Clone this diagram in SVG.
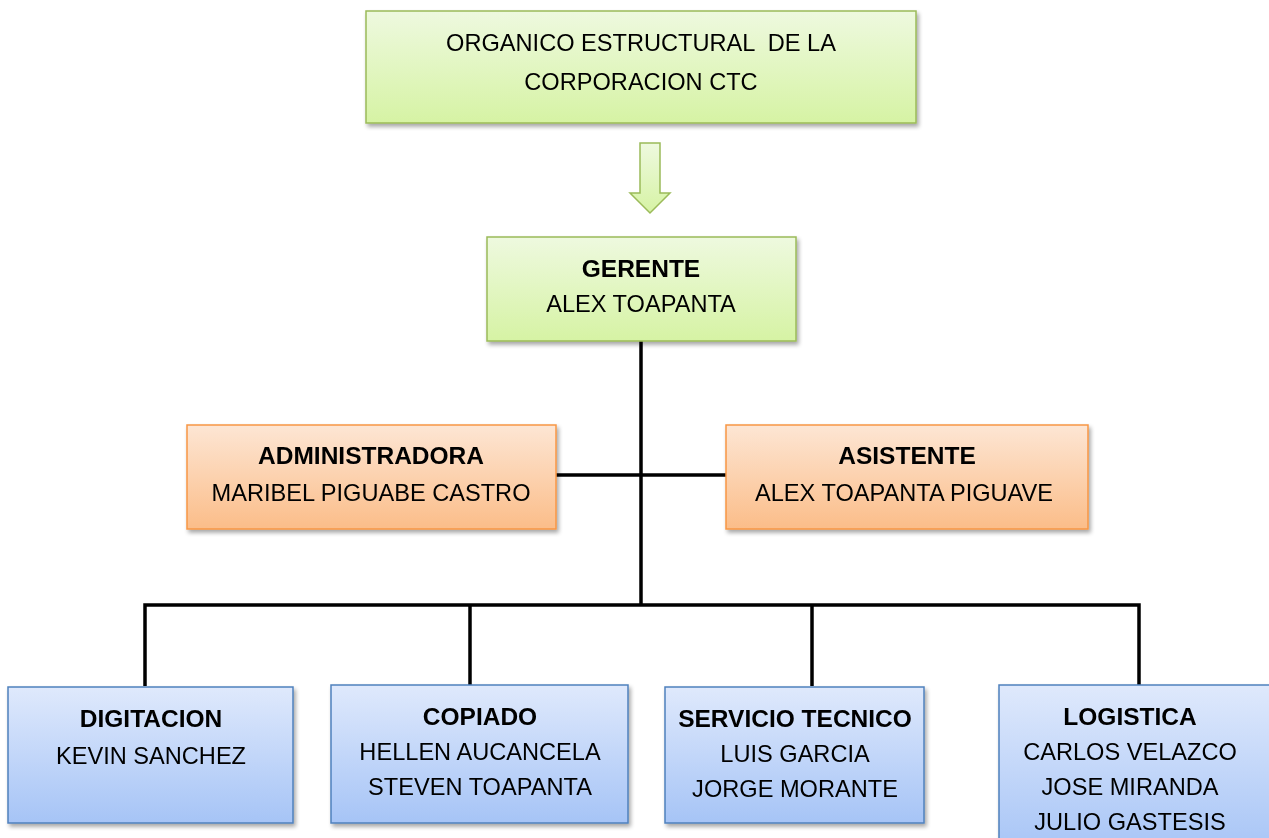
<svg xmlns="http://www.w3.org/2000/svg" width="1269" height="838" viewBox="0 0 1269 838">
<defs>
<linearGradient id="gGreen" x1="0" y1="0" x2="0" y2="1"><stop offset="0" stop-color="#eef9df"/><stop offset="1" stop-color="#d6f3a4"/></linearGradient>
<linearGradient id="gOrange" x1="0" y1="0" x2="0" y2="1"><stop offset="0" stop-color="#fde6d4"/><stop offset="1" stop-color="#fbbd89"/></linearGradient>
<linearGradient id="gBlue" x1="0" y1="0" x2="0" y2="1"><stop offset="0" stop-color="#dfe9fc"/><stop offset="1" stop-color="#a6c4f6"/></linearGradient>
<filter id="sh" x="-5%" y="-5%" width="115%" height="120%"><feGaussianBlur in="SourceAlpha" stdDeviation="2"/><feOffset dx="2" dy="3"/><feComponentTransfer><feFuncA type="linear" slope="0.35"/></feComponentTransfer><feMerge><feMergeNode/><feMergeNode in="SourceGraphic"/></feMerge></filter>
</defs>
<style>
.green{fill:url(#gGreen);stroke:#9bbb59;stroke-width:1.5}
.orange{fill:url(#gOrange);stroke:#f79646;stroke-width:1.5}
.blue{fill:url(#gBlue);stroke:#4f81bd;stroke-width:1.5}
text{font-family:"Liberation Sans",Arial,sans-serif;font-size:23.6px;fill:#000;text-anchor:middle}
.b{font-weight:bold;font-size:24.5px}
.pre{white-space:pre}
.conn{stroke:#000;stroke-width:3.5;fill:none}
</style>
<rect width="1269" height="838" fill="#fff"/>
<g id="title" filter="url(#sh)">
<rect class="green" x="366" y="11" width="550" height="112"/>
<text class="pre" x="641" y="51">ORGANICO ESTRUCTURAL  DE LA</text>
<text x="641" y="90">CORPORACION CTC</text>
</g>
<g id="arrow">
<path class="green" d="M640,143 H660 V193 H670 L650,213 L630,193 H640 Z"/>
</g>
<g id="connectors">
<line class="conn" x1="641" y1="341" x2="641" y2="605"/>
<line class="conn" x1="556" y1="475" x2="726" y2="475"/>
<polyline class="conn" points="145,686 145,605 1139,605 1139,688"/>
<line class="conn" x1="470" y1="605" x2="470" y2="688"/>
<line class="conn" x1="812" y1="605" x2="812" y2="686"/>
</g>
<g id="gerente" filter="url(#sh)">
<rect class="green" x="487" y="237" width="309" height="104"/>
<text class="b" x="641" y="277">GERENTE</text>
<text x="641" y="312">ALEX TOAPANTA</text>
</g>
<g id="administradora" filter="url(#sh)">
<rect class="orange" x="187" y="425" width="369" height="104"/>
<text class="b" x="371" y="464">ADMINISTRADORA</text>
<text x="371" y="501">MARIBEL PIGUABE CASTRO</text>
</g>
<g id="asistente" filter="url(#sh)">
<rect class="orange" x="726" y="425" width="362" height="104"/>
<text class="b" x="907" y="464">ASISTENTE</text>
<text x="904" y="501">ALEX TOAPANTA PIGUAVE</text>
</g>
<g id="digitacion" filter="url(#sh)">
<rect class="blue" x="8" y="687" width="285" height="136"/>
<text class="b" x="151" y="727">DIGITACION</text>
<text x="151" y="764">KEVIN SANCHEZ</text>
</g>
<g id="copiado" filter="url(#sh)">
<rect class="blue" x="331" y="685" width="297" height="138"/>
<text class="b" x="480" y="725">COPIADO</text>
<text x="480" y="760">HELLEN AUCANCELA</text>
<text x="480" y="795">STEVEN TOAPANTA</text>
</g>
<g id="servicio" filter="url(#sh)">
<rect class="blue" x="665" y="687" width="259" height="136"/>
<text class="b" x="795" y="727">SERVICIO TECNICO</text>
<text x="795" y="762">LUIS GARCIA</text>
<text x="795" y="797">JORGE MORANTE</text>
</g>
<g id="logistica" filter="url(#sh)">
<rect class="blue" x="999" y="685" width="280" height="170"/>
<text class="b" x="1130" y="725">LOGISTICA</text>
<text x="1130" y="760">CARLOS VELAZCO</text>
<text x="1130" y="795">JOSE MIRANDA</text>
<text x="1130" y="830">JULIO GASTESIS</text>
</g>
</svg>
